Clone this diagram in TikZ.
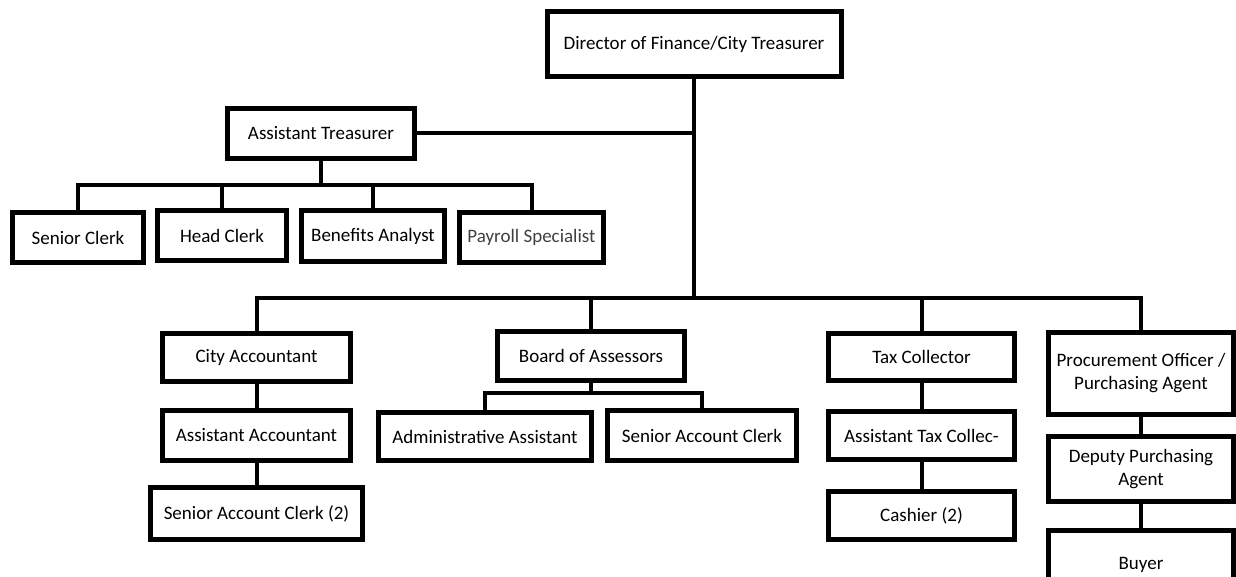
\documentclass[tikz,border=0pt]{standalone}
\usepackage{fontspec}
\setmainfont{Carlito}
\begin{document}
\begin{tikzpicture}[x=1pt,y=-1pt,
  box/.style={draw=black,line width=5pt,fill=white,rectangle,inner sep=0pt,
    align=center,font=\fontsize{19}{23}\selectfont},
  conn/.style={draw=black,line width=4pt,line join=miter}]
\useasboundingbox (0,0) rectangle (1236,577);
\clip (0,0) rectangle (1236,577);
\fill[white] (0,0) rectangle (1236,577);
\coordinate (mbus) at (694,298);
\coordinate (atbus) at (321,185);
\coordinate (bbus) at (591,393);
% nodes
\node[box,minimum width=294pt,minimum height=65pt] (D) at (694,44) {Director of Finance/City Treasurer};
\node[box,minimum width=187pt,minimum height=50pt] (AT) at (321,133.5) {Assistant Treasurer};
\node[box,minimum width=131pt,minimum height=50pt] (SC) at (78,237.5) {Senior Clerk};
\node[box,minimum width=129pt,minimum height=50pt] (HC) at (222,235.5) {Head Clerk};
\node[box,minimum width=143pt,minimum height=51pt] (BA) at (373,236) {Benefits Analyst};
\node[box,minimum width=144pt,minimum height=50pt,text=black!75] (PS) at (531.5,237.5) {Payroll Specialist};
\node[box,minimum width=188pt,minimum height=48pt] (CA) at (256.5,357.5) {City Accountant};
\node[box,minimum width=188pt,minimum height=50pt] (AA) at (256.5,435.5) {Assistant Accountant};
\node[box,minimum width=212pt,minimum height=52pt] (SAC2) at (256.5,513.5) {Senior Account Clerk (2)};
\node[box,minimum width=187pt,minimum height=49pt] (BOA) at (591,356) {Board of Assessors};
\node[box,minimum width=213pt,minimum height=48pt] (ADM) at (485,436.5) {Administrative Assistant};
\node[box,minimum width=189pt,minimum height=50pt] (SAC) at (702,435.5) {Senior Account Clerk};
\node[box,minimum width=186pt,minimum height=47pt] (TC) at (921.5,357) {Tax Collector};
\node[box,minimum width=186pt,minimum height=48pt] (ATC) at (921.5,435.5) {Assistant Tax Collec-};
\node[box,minimum width=186pt,minimum height=48pt] (CSH) at (921.5,515.5) {Cashier (2)};
\node[box,minimum width=185pt,minimum height=82pt] (PO) at (1141,373.5) {Procurement Officer /\\Purchasing Agent};
\node[box,minimum width=185pt,minimum height=65pt] (DPA) at (1141,469) {Deputy Purchasing\\Agent};
\node[box,minimum width=185pt,minimum height=69pt] (BUY) at (1141,565) {Buyer};
% connectors
\draw[conn] (D.south) -- (mbus);
\draw[conn] (AT.east) -- (AT.east -| D.south);
\draw[conn] (AT.south) -- (atbus);
\draw[conn] (SC.north) |- (atbus) -| (PS.north);
\draw[conn] (HC.north) -- (HC.north |- atbus);
\draw[conn] (BA.north) -- (BA.north |- atbus);
\draw[conn] (CA.north) |- (mbus) -| (PO.north);
\draw[conn] (BOA.north) -- (BOA.north |- mbus);
\draw[conn] (TC.north) -- (TC.north |- mbus);
\draw[conn] (CA.south) -- (AA.north);
\draw[conn] (AA.south) -- (SAC2.north);
\draw[conn] (BOA.south) -- (bbus);
\draw[conn] (ADM.north) |- (bbus) -| (SAC.north);
\draw[conn] (TC.south) -- (ATC.north);
\draw[conn] (ATC.south) -- (CSH.north);
\draw[conn] (PO.south) -- (DPA.north);
\draw[conn] (DPA.south) -- (BUY.north);
\end{tikzpicture}
\end{document}
